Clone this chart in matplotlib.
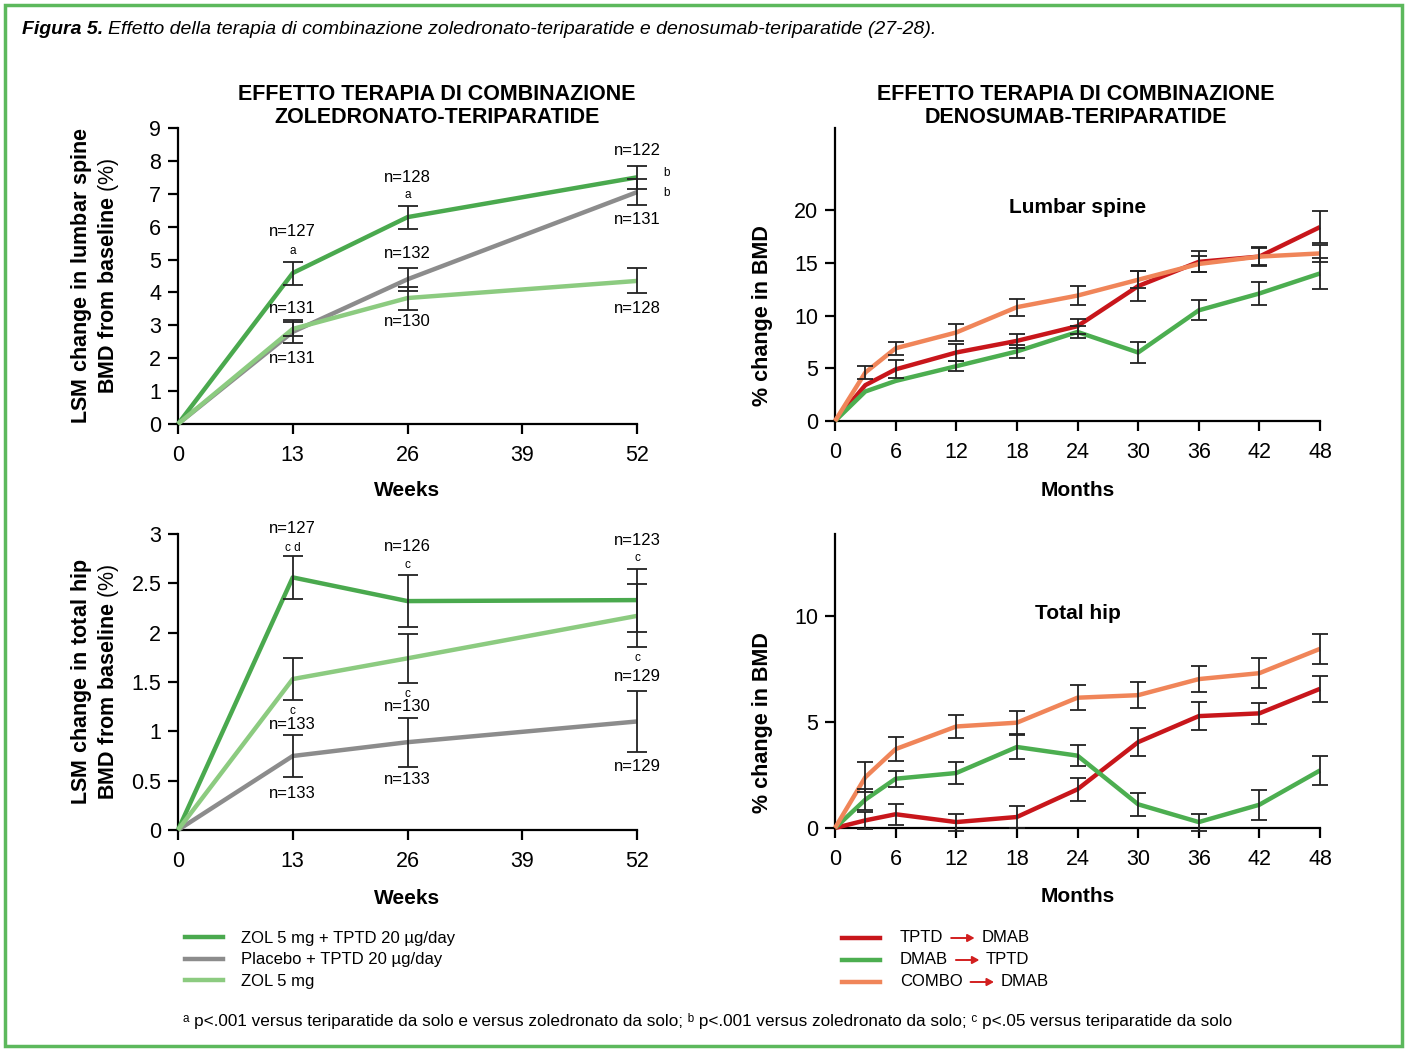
import numpy as np
import matplotlib
matplotlib.use("Agg")
import matplotlib.pyplot as plt
from matplotlib.lines import Line2D
from matplotlib.patches import Rectangle, FancyArrowPatch

plt.rcParams['font.family'] = ['Liberation Sans', 'DejaVu Sans']
plt.rcParams['mathtext.fontset'] = 'custom'
plt.rcParams['mathtext.rm'] = 'Liberation Sans'
plt.rcParams['mathtext.bf'] = 'Liberation Sans:bold'

# ---- left panels: zoledronate + teriparatide (weeks) ----
weeks = [0, 13, 26, 52]
week_ticks = [0, 13, 26, 39, 52]
lsm_labels = ["ZOL 5 mg + TPTD 20 µg/day", "Placebo + TPTD 20 µg/day", "ZOL 5 mg"]
lsm_spine = [[0, 4.59, 6.29, 7.5],
             [0, 2.8, 4.4, 7.05],
             [0, 2.89, 3.83, 4.35]]
lsm_spine_err = [[0, 0.35, 0.35, 0.35],
                 [0, 0.35, 0.35, 0.4],
                 [0, 0.2, 0.35, 0.38]]
lsm_hip = [[0, 2.56, 2.32, 2.33],
           [0, 0.75, 0.89, 1.1],
           [0, 1.53, 1.74, 2.17]]
lsm_hip_err = [[0, 0.22, 0.26, 0.32],
               [0, 0.21, 0.25, 0.31],
               [0, 0.21, 0.25, 0.32]]
left_colors = ['#4aa94e', '#8c8c8c', '#8ccb80']

# n labels: (week, y, text, size)
spine_notes = [(13, 5.84, "n=127", 12), (13, 5.26, "a", 8.5), (13, 3.5, "n=131", 12), (13, 1.98, "n=131", 12),
               (26, 7.48, "n=128", 12), (26, 6.96, "a", 8.5), (26, 5.17, "n=132", 12), (26, 3.13, "n=130", 12),
               (52, 8.33, "n=122", 12), (55.4, 7.63, "b", 8.5), (55.4, 7.02, "b", 8.5), (52, 6.23, "n=131", 12),
               (52, 3.5, "n=128", 12)]
hip_notes = [(13, 3.06, "n=127", 12), (13, 2.86, "c d", 8.5), (13, 1.21, "c", 8.5), (13, 1.07, "n=133", 12),
             (13, 0.37, "n=133", 12),
             (26, 2.87, "n=126", 12), (26, 2.69, "c", 8.5), (26, 1.38, "c", 8.5), (26, 1.25, "n=130", 12),
             (26, 0.51, "n=133", 12),
             (52, 2.93, "n=123", 12), (52, 2.76, "c", 8.5), (52, 1.74, "c", 8.5), (52, 1.56, "n=129", 12),
             (52, 0.64, "n=129", 12)]

# ---- right panels: denosumab + teriparatide (months) ----
months = [0, 3, 6, 12, 18, 24, 30, 36, 42, 48]
month_ticks = [0, 6, 12, 18, 24, 30, 36, 42, 48]
dmab_labels = [("TPTD", "DMAB"), ("DMAB", "TPTD"), ("COMBO", "DMAB")]
dmab_spine = [[0, 3.4, 4.9, 6.5, 7.6, 9.0, 12.8, 15.1, 15.6, 18.4],
              [0, 2.8, 3.8, 5.2, 6.6, 8.45, 6.5, 10.5, 12.1, 14.0],
              [0, 4.6, 6.9, 8.4, 10.8, 11.9, 13.4, 14.9, 15.6, 15.9]]
dmab_spine_err = [[0, 0, 0.85, 0.8, 0.7, 0.7, 1.4, 1.0, 0.9, 1.5],
                  [0, 0, 0, 0.5, 0.6, 0.6, 0.95, 0.95, 1.1, 1.5],
                  [0, 0.65, 0.63, 0.8, 0.8, 0.9, 0.8, 0.8, 0.8, 0.8]]
dmab_hip = [[0, 0.36, 0.65, 0.28, 0.52, 1.83, 4.06, 5.29, 5.42, 6.58],
            [0, 1.34, 2.33, 2.6, 3.83, 3.42, 1.12, 0.28, 1.1, 2.72],
            [0, 2.4, 3.73, 4.8, 4.98, 6.16, 6.28, 7.04, 7.32, 8.47]]
dmab_hip_err = [[0, 0.4, 0.5, 0.4, 0.5, 0.55, 0.65, 0.65, 0.5, 0.6],
                [0, 0.5, 0.38, 0.5, 0.55, 0.5, 0.55, 0.4, 0.7, 0.7],
                [0, 0.7, 0.55, 0.53, 0.55, 0.6, 0.6, 0.6, 0.7, 0.7]]
right_colors = ['#c8161b', '#4cae50', '#f08559']

W, H = 1407, 1050
fig = plt.figure(figsize=(W / 100, H / 100), dpi=100)


def fx(px):
    return px / W


def fy(py):
    return 1 - py / H


def style_axes(ax, xticks, xlim, ylim, yticks):
    for s in ['top', 'right']:
        ax.spines[s].set_visible(False)
    for s in ['left', 'bottom']:
        ax.spines[s].set_linewidth(1.6)
    ax.set_xlim(*xlim)
    ax.set_ylim(*ylim)
    ax.set_xticks(xticks)
    ax.set_yticks(yticks)
    ax.tick_params(direction='out', length=7, width=1.6, labelsize=15.5)
    ax.tick_params(axis='x', pad=8)
    ax.tick_params(axis='y', pad=5)
    ax.spines['left'].set_bounds(ylim[0], ylim[1])


def draw_series(ax, x, ys, errs, colors, capsize):
    for y, e, c in zip(ys, errs, colors):
        ax.plot(x, y, color=c, lw=3.2, solid_capstyle='butt', clip_on=False, zorder=3)
    for y, e in zip(ys, errs):
        xe = [a for a, b in zip(x, e) if b > 0]
        ye = [a for a, b in zip(y, e) if b > 0]
        ee = [b for b in e if b > 0]
        ax.errorbar(xe, ye, yerr=ee, fmt='none', ecolor='#222222', elinewidth=1.3,
                    capsize=capsize, capthick=1.3, zorder=4, clip_on=False)


# top-left
ax1 = fig.add_axes([fx(178), fy(424), fx(637 - 178), (424 - 128) / H])
style_axes(ax1, week_ticks, (0, 52), (0, 9), range(10))
draw_series(ax1, weeks, lsm_spine, lsm_spine_err, left_colors, 7)
for x, y, t, s in spine_notes:
    ax1.text(x, y, t, ha='center', va='center', fontsize=s)
ax1.set_xlabel("Weeks", fontsize=15, fontweight='bold', labelpad=11)
ax1.set_ylabel("$\\mathbf{LSM\\ change\\ in\\ lumbar\\ spine}$\n$\\mathbf{BMD\\ from\\ baseline}$ (%)",
               fontsize=15.5, linespacing=1.1)
ax1.yaxis.set_label_coords(-0.124, 0.5)

# bottom-left
ax2 = fig.add_axes([fx(178), fy(830), fx(637 - 178), (830 - 534) / H])
style_axes(ax2, week_ticks, (0, 52), (0, 3), [0, 0.5, 1, 1.5, 2, 2.5, 3])
ax2.set_yticklabels(["0", "0.5", "1", "1.5", "2", "2.5", "3"])
draw_series(ax2, weeks, lsm_hip, lsm_hip_err, left_colors, 7)
for x, y, t, s in hip_notes:
    ax2.text(x, y, t, ha='center', va='center', fontsize=s)
ax2.set_xlabel("Weeks", fontsize=15, fontweight='bold', labelpad=12)
ax2.set_ylabel("$\\mathbf{LSM\\ change\\ in\\ total\\ hip}$\n$\\mathbf{BMD\\ from\\ baseline}$ (%)",
               fontsize=15.5, linespacing=1.1)
ax2.yaxis.set_label_coords(-0.124, 0.5)

# top-right
ax3 = fig.add_axes([fx(835), fy(421), fx(1320 - 835), (421 - 128) / H])
style_axes(ax3, month_ticks, (0, 48), (0, 27.8), [0, 5, 10, 15, 20])
draw_series(ax3, months, dmab_spine, dmab_spine_err, right_colors, 6)
ax3.text(0.5, 0.73, "Lumbar spine", transform=ax3.transAxes, ha='center', va='center',
         fontsize=15, fontweight='bold')
ax3.set_xlabel("Months", fontsize=15, fontweight='bold', labelpad=13)
ax3.set_ylabel("% change in BMD", fontsize=15.5, fontweight='bold')
ax3.yaxis.set_label_coords(-0.128, 0.36)

# bottom-right
ax4 = fig.add_axes([fx(835), fy(828), fx(1320 - 835), (828 - 534) / H])
style_axes(ax4, month_ticks, (0, 48), (0, 13.9), [0, 5, 10])
draw_series(ax4, months, dmab_hip, dmab_hip_err, right_colors, 6)
ax4.text(0.5, 0.73, "Total hip", transform=ax4.transAxes, ha='center', va='center',
         fontsize=15, fontweight='bold')
ax4.set_xlabel("Months", fontsize=15, fontweight='bold', labelpad=12)
ax4.set_ylabel("% change in BMD", fontsize=15.5, fontweight='bold')
ax4.yaxis.set_label_coords(-0.128, 0.36)

# panel titles
fig.text(fx(437), fy(106), "EFFETTO TERAPIA DI COMBINAZIONE\nZOLEDRONATO-TERIPARATIDE",
         ha='center', va='center', fontsize=15.5, fontweight='bold', linespacing=1.15)
fig.text(fx(1076), fy(106), "EFFETTO TERAPIA DI COMBINAZIONE\nDENOSUMAB-TERIPARATIDE",
         ha='center', va='center', fontsize=15.5, fontweight='bold', linespacing=1.15)

# left legend
handles = [Line2D([0], [0], color=c, lw=3.2) for c in left_colors]
fig.legend(handles, lsm_labels, loc='upper left', bbox_to_anchor=(fx(178), fy(924)),
           frameon=False, fontsize=12, handlelength=2.3, handletextpad=1.1, labelspacing=0.4,
           borderaxespad=0)

# right legend, drawn by hand for the red arrows
fig.canvas.draw()
renderer = fig.canvas.get_renderer()
for i, ((a, b), c) in enumerate(zip(dmab_labels, right_colors)):
    yy = fy(938 + 22 * i)
    fig.add_artist(Line2D([fx(842), fx(880)], [yy, yy], color=c, lw=3.2,
                          transform=fig.transFigure))
    t1 = fig.text(fx(900), yy, a, ha='left', va='center', fontsize=12)
    bb = t1.get_window_extent(renderer)
    x0 = bb.x1 + 5
    arr = FancyArrowPatch((x0 / W, yy), ((x0 + 29) / W, yy), transform=fig.transFigure,
                          arrowstyle='-|>,head_length=4,head_width=2.2', color='#d21f1f', lw=1.4)
    fig.add_artist(arr)
    fig.text((x0 + 33) / W, yy, b, ha='left', va='center', fontsize=12)

# figure title
t = fig.text(fx(22), fy(30), "Figura 5.", ha='left', va='center', fontsize=14,
             fontweight='bold', style='italic')
bb = t.get_window_extent(renderer)
fig.text((bb.x1 + 5) / W, fy(30),
         "Effetto della terapia di combinazione zoledronato-teriparatide e denosumab-teriparatide (27-28).",
         ha='left', va='center', fontsize=14, style='italic')

# footnote
fig.text(fx(183), fy(1021),
         "ᵃ p<.001 versus teriparatide da solo e versus zoledronato da solo; "
         "ᵇ p<.001 versus zoledronato da solo; ᶜ p<.05 versus teriparatide da solo",
         ha='left', va='center', fontsize=12.3)

# green frame
fig.add_artist(Rectangle((fx(5), fy(1046)), fx(1397), (1046 - 5) / H, transform=fig.transFigure,
                         fill=False, edgecolor='#5cb85c', lw=2.5))

fig.savefig("out.png", dpi=100)
